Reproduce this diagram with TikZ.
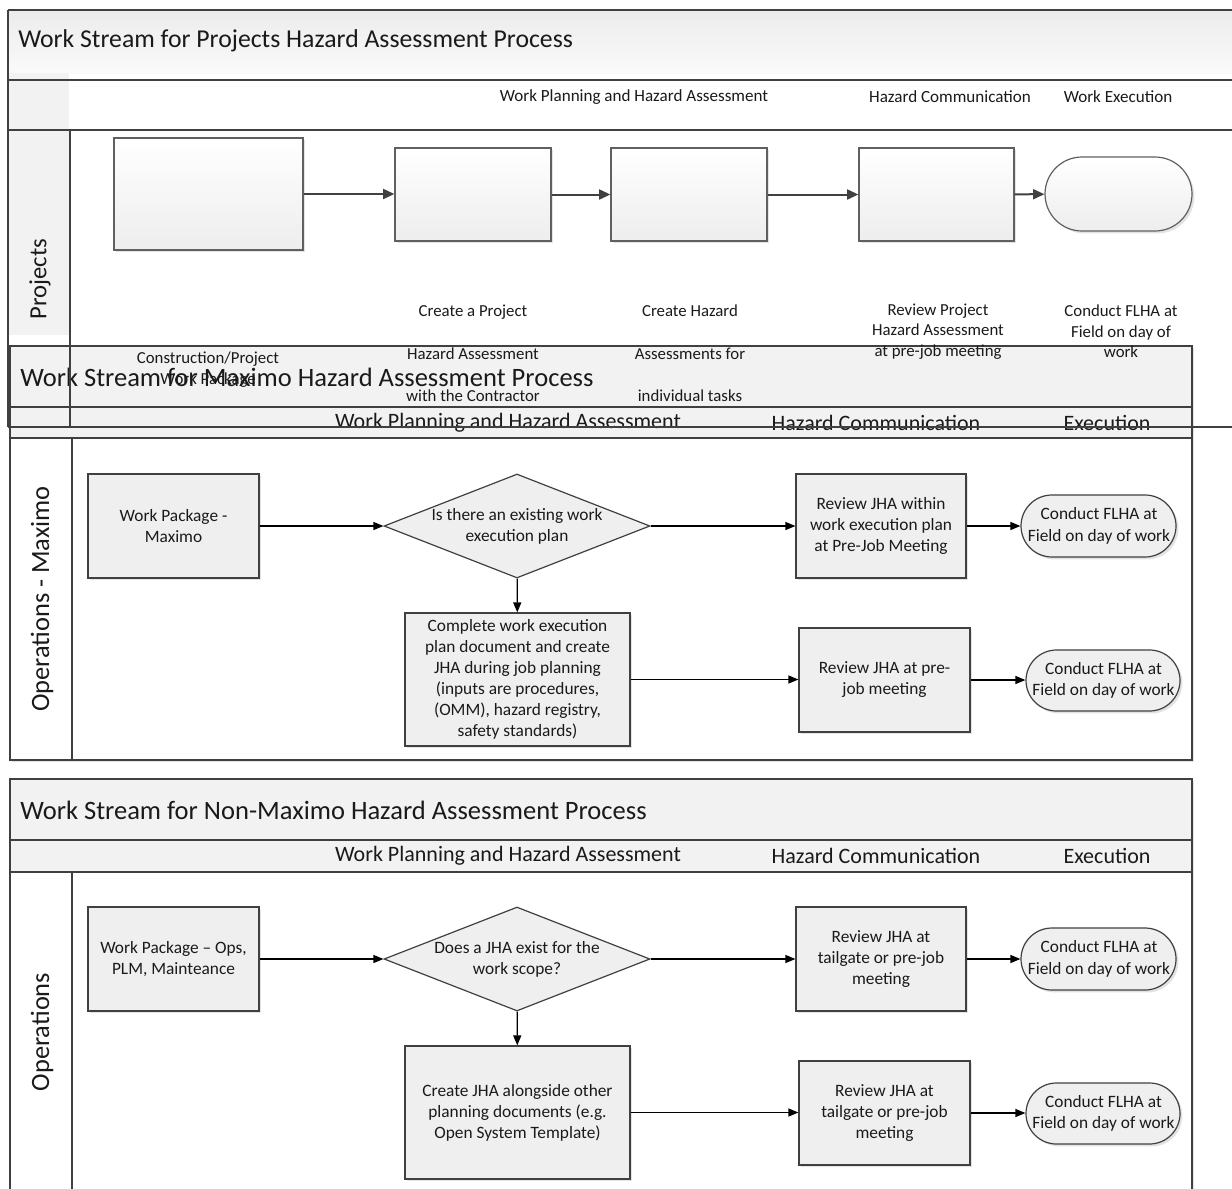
\documentclass[tikz,border=0pt]{standalone}
\usepackage{fontspec}
\setmainfont{Carlito}
\usetikzlibrary{arrows.meta,shapes.geometric,shapes.misc,shadows}
\definecolor{linec}{HTML}{404040}
\definecolor{bandc}{HTML}{F2F2F2}
\definecolor{boxc}{HTML}{EFEFEF}
\definecolor{txtc}{HTML}{1A1A1A}
\begin{document}
\begin{tikzpicture}[x=0.75pt,y=-0.75pt,
  pline/.style={draw=linec,line width=1.5pt},
  sline/.style={draw=linec,line width=1.1pt},
  shad/.style={drop shadow={shadow xshift=1.8pt,shadow yshift=-1.8pt,opacity=0.22}},
  pbox/.style={draw=gray!75!black,line width=0.9pt,top color=white,bottom color=gray!14,inner sep=0pt,shad},
  obox/.style={draw=linec,line width=0.9pt,fill=boxc,align=center,inner sep=2pt,text=txtc,
     font=\fontsize{13}{15.75}\selectfont,shad},
  term/.style={rounded rectangle,draw=linec,line width=0.9pt,fill=boxc,inner sep=0pt,shad},
  dia/.style={diamond,draw=linec,line width=0.9pt,fill=boxc,inner sep=0pt,
     minimum width=199.5pt,minimum height=78pt},
  ntxt/.style={align=center,text=txtc,inner sep=0pt,font=\fontsize{13}{15.75}\selectfont},
  ttxt/.style={align=center,text=txtc,inner sep=0pt,font=\fontsize{13}{16}\selectfont},
  arr/.style={-{Triangle[length=7.5pt,width=6pt]},draw=black,line width=0.9pt},
  parr/.style={-{Triangle[length=8.5pt,width=7.5pt]},draw=linec,line width=1.5pt},
  plabel/.style={align=center,text=txtc,inner sep=0pt},
  ptitle/.style={anchor=west,text=txtc,inner sep=0pt,font=\fontsize{19.9}{22}\selectfont},
  phead/.style={text=txtc,inner sep=0pt,font=\fontsize{16.5}{18}\selectfont},
  lanelab/.style={rotate=90,text=txtc,inner sep=0pt}
]
\useasboundingbox (0,0) rectangle (1232,1189);
\fill[white] (0,0) rectangle (1232,1189);

% ---------- Pool 1 backgrounds ----------
\path[top color=gray!15,bottom color=gray!4] (8,10) rectangle (1232,73);
\fill[gray!10] (8,73) rectangle (69,335);

% ---------- Pool 1 boxes ----------
\node[pbox,minimum width=141.75pt,minimum height=84pt] (p1) at (208.5,194) {};
\node[pbox,minimum width=117pt,minimum height=69.75pt] (p2) at (473,194.5) {};
\node[pbox,minimum width=117pt,minimum height=69.75pt] (p3) at (689,194.5) {};
\node[pbox,minimum width=116.25pt,minimum height=69.75pt] (p4) at (936.5,194.5) {};
\node[pbox,rounded rectangle,minimum width=110.25pt,minimum height=55.5pt] (p5) at (1118.5,194) {};
\draw[parr] (p1.east) -- (p1.east -| p2.west);
\draw[parr] (p2) -- (p3);
\draw[parr] (p3) -- (p4);
\draw[parr] (p4) -- (p5);

% ---------- Pool 2 ----------
\path[fill=white,shad] (10,346) rectangle (1192,760);
\fill[bandc] (10,346) rectangle (1192,438);
\draw[sline] (10,407) -- (1192,407);
\draw[sline] (10,438) -- (1192,438);
\draw[sline] (72,438) -- (72,760);
\draw[sline] (10,346) rectangle (1192,760);
\node[ptitle] (t2) at (20,377) {Work Stream for Maximo Hazard Assessment Process};
\node[phead] (h2a) at (508,423) {Work Planning and Hazard Assessment};
\node[phead] (h2b) at (876,423) {Hazard Communication};
\node[phead] (h2c) at (1107,423) {Execution};
\node[lanelab,font=\fontsize{19.8}{22}\selectfont] (l2) at (42,599) {Operations - Maximo};

\node[obox,minimum width=128.25pt,minimum height=78pt] (m1) at (173.5,526) {Work Package -\\Maximo};
\node[dia] (m2) at (517,526) {};
\node[ntxt] (m2t) at (517,526) {Is there an existing work\\execution plan};
\node[obox,minimum width=127.5pt,minimum height=78pt] (m3) at (881,526) {Review JHA within\\work execution plan\\at Pre-Job Meeting};
\node[term,minimum width=116.25pt,minimum height=46.5pt] (m4) at (1098.5,526) {};
\node[ttxt] (m4t) at (1099,526) {Conduct FLHA at\\Field on day of work};
\node[obox,minimum width=168.75pt,minimum height=99.75pt] (m5) at (517.5,679.5) {Complete work execution\\plan document and create\\JHA during job planning\\(inputs are procedures,\\(OMM), hazard registry,\\safety standards)};
\node[obox,minimum width=128.25pt,minimum height=78pt] (m6) at (884.5,680) {Review JHA at pre-\\job meeting};
\node[term,minimum width=115.5pt,minimum height=45.75pt] (m7) at (1103,680.5) {};
\node[ttxt] (m7t) at (1103.5,680.5) {Conduct FLHA at\\Field on day of work};
\draw[arr] (m1) -- (m2);
\draw[arr] (m2) -- (m3);
\draw[arr] (m3) -- (m4);
\draw[arr] (m2) -- (m5);
\draw[arr] (m5.east) -- (m5.east -| m6.west);
\draw[arr] (m6.east) -- (m6.east -| m7.west);

% ---------- Pool 3 ----------
\path[fill=white,shad] (10,779) rectangle (1192,1200);
\fill[bandc] (10,779) rectangle (1192,872);
\draw[sline] (10,840) -- (1192,840);
\draw[sline] (10,872) -- (1192,872);
\draw[sline] (72,872) -- (72,1189);
\draw[sline] (10,1189) |- (1192,779) -- (1192,1189);
\node[ptitle] (t3) at (20,810) {Work Stream for Non-Maximo Hazard Assessment Process};
\node[phead] (h3a) at (508,856) {Work Planning and Hazard Assessment};
\node[phead] (h3b) at (876,856) {Hazard Communication};
\node[phead] (h3c) at (1107,856) {Execution};
\node[lanelab,font=\fontsize{19.8}{22}\selectfont] (l3) at (42,1032) {Operations};

\node[obox,minimum width=128.25pt,minimum height=78pt] (n1) at (173.5,959) {Work Package – Ops,\\PLM, Mainteance};
\node[dia] (n2) at (517,959) {};
\node[ntxt] (n2t) at (517,959) {Does a JHA exist for the\\work scope?};
\node[obox,minimum width=127.5pt,minimum height=78pt] (n3) at (881,959) {Review JHA at\\tailgate or pre-job\\meeting};
\node[term,minimum width=116.25pt,minimum height=46.5pt] (n4) at (1098.5,959) {};
\node[ttxt] (n4t) at (1099,959) {Conduct FLHA at\\Field on day of work};
\node[obox,minimum width=168.75pt,minimum height=99.75pt] (n5) at (517.5,1112.5) {Create JHA alongside other\\planning documents (e.g.\\Open System Template)};
\node[obox,minimum width=128.25pt,minimum height=78pt] (n6) at (884.5,1113) {Review JHA at\\tailgate or pre-job\\meeting};
\node[term,minimum width=115.5pt,minimum height=45.75pt] (n7) at (1103,1113.5) {};
\node[ttxt] (n7t) at (1103.5,1113.5) {Conduct FLHA at\\Field on day of work};
\draw[arr] (n1) -- (n2);
\draw[arr] (n2) -- (n3);
\draw[arr] (n3) -- (n4);
\draw[arr] (n2) -- (n5);
\draw[arr] (n5.east) -- (n5.east -| n6.west);
\draw[arr] (n6.east) -- (n6.east -| n7.west);

% ---------- Pool 1 lines and texts (on top) ----------
\draw[pline] (8,10) -- (1232,10);
\draw[pline] (8,80) -- (1232,80);
\draw[pline] (8,130) -- (1232,130);
\draw[pline] (8,427) -- (1232,427);
\draw[pline] (8,10) -- (8,427);
\draw[pline] (70,130) -- (70,427);
\node[anchor=west,text=txtc,inner sep=0pt,font=\fontsize{19.3}{21}\selectfont] (t1) at (18,41) {Work Stream for Projects Hazard Assessment Process};
\node[plabel,font=\fontsize{12.8}{14}\selectfont] (h1a) at (634,97) {Work Planning and Hazard Assessment};
\node[plabel,font=\fontsize{12.8}{14}\selectfont] (h1b) at (950,97) {Hazard Communication};
\node[plabel,font=\fontsize{12.8}{14}\selectfont] (h1c) at (1118,97) {Work Execution};
\node[lanelab,font=\fontsize{18.5}{20}\selectfont] (l1) at (40,279) {Projects};
\node[plabel,font=\fontsize{12.6}{15.75}\selectfont] (q1) at (208,369.5) {Construction/Project\\Work Package};
\node[plabel,font=\fontsize{12.6}{31.9}\selectfont] (q2) at (473,353.5) {Create a Project\\Hazard Assessment\\with the Contractor};
\node[plabel,font=\fontsize{12.6}{31.9}\selectfont] (q3) at (690,353.5) {Create Hazard\\Assessments for\\individual tasks};
\node[plabel,font=\fontsize{12.6}{15.4}\selectfont] (q4) at (938,331.5) {Review Project\\Hazard Assessment\\at pre-job meeting};
\node[plabel,font=\fontsize{12.6}{15.4}\selectfont] (q5) at (1121,331.5) {Conduct FLHA at\\Field on day of\\work};
\end{tikzpicture}
\end{document}
